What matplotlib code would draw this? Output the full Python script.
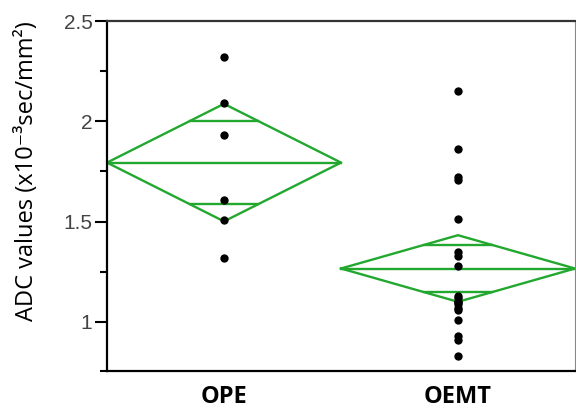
import numpy as np
import matplotlib
matplotlib.use("Agg")
import matplotlib.pyplot as plt
from matplotlib.ticker import FixedLocator

# values
groups = ["OPE", "OEMT"]
ope_adc = [2.32, 2.09, 1.93, 1.61, 1.51, 1.32]
oemt_adc = [2.15, 1.86, 1.72, 1.705, 1.515, 1.35, 1.33, 1.28,
            1.13, 1.12, 1.10, 1.10, 1.09, 1.07, 1.06,
            1.01, 0.93, 0.91, 0.83]
diamond_mean = [1.794, 1.266]
diamond_ci = [0.293, 0.166]

green = "#22a82e"

fig = plt.figure(figsize=(5.76, 4.11), dpi=100)
ax = fig.add_axes([107 / 576, 1 - 371 / 411, 468 / 576, 350 / 411])

half_w = 0.5
for i, (m, ci) in enumerate(zip(diamond_mean, diamond_ci)):
  # diamond
  ax.plot([i - half_w, i, i + half_w, i, i - half_w],
          [m, m + ci, m, m - ci, m], color=green, lw=1.7, zorder=2)
  # mean line
  ax.plot([i - half_w, i + half_w], [m, m], color=green, lw=1.7, zorder=2)
  # overlap marks
  ov = ci / np.sqrt(2)
  w = half_w * (1 - ov / ci)
  for s in (1, -1):
    ax.plot([i - w, i + w], [m + s * ov, m + s * ov], color=green, lw=1.7, zorder=2)

for i, vals in enumerate([ope_adc, oemt_adc]):
  ax.plot([i] * len(vals), vals, "o", color="black", ms=6, mec="none", zorder=3)

ax.set_xlim(-0.5, 1.5)
ax.set_ylim(0.755, 2.5)
ax.set_xticks([0, 1])
ax.set_xticklabels(groups, fontfamily="Open Sans", fontweight="bold", fontsize=17)
ax.tick_params(axis="x", length=0, pad=10)

ax.set_yticks([1, 1.5, 2, 2.5])
ax.set_yticklabels(["1", "1.5", "2", "2.5"], fontfamily="Liberation Sans",
                   fontsize=15, color="#444444")
ax.yaxis.set_minor_locator(FixedLocator([0.755, 1.25, 1.75, 2.25]))
ax.tick_params(axis="y", which="major", length=8.5, width=1.5, pad=2)
ax.tick_params(axis="y", which="minor", length=5, width=1.5)

for side in ("left", "bottom"):
  ax.spines[side].set_linewidth(1.6)
  ax.spines[side].set_color("black")
ax.spines["top"].set_linewidth(1.6)
ax.spines["top"].set_color("#333333")
ax.spines["right"].set_linewidth(0.8)
ax.spines["right"].set_color("#888888")

fig.text(27 / 576, 1 - 171 / 411, "ADC values (x10\u207b\u00b3sec/mm\u00b2)",
         rotation=90, ha="center", va="center",
         fontfamily=["Open Sans", "DejaVu Sans"], fontsize=17)

fig.savefig("out.png", dpi=100)
